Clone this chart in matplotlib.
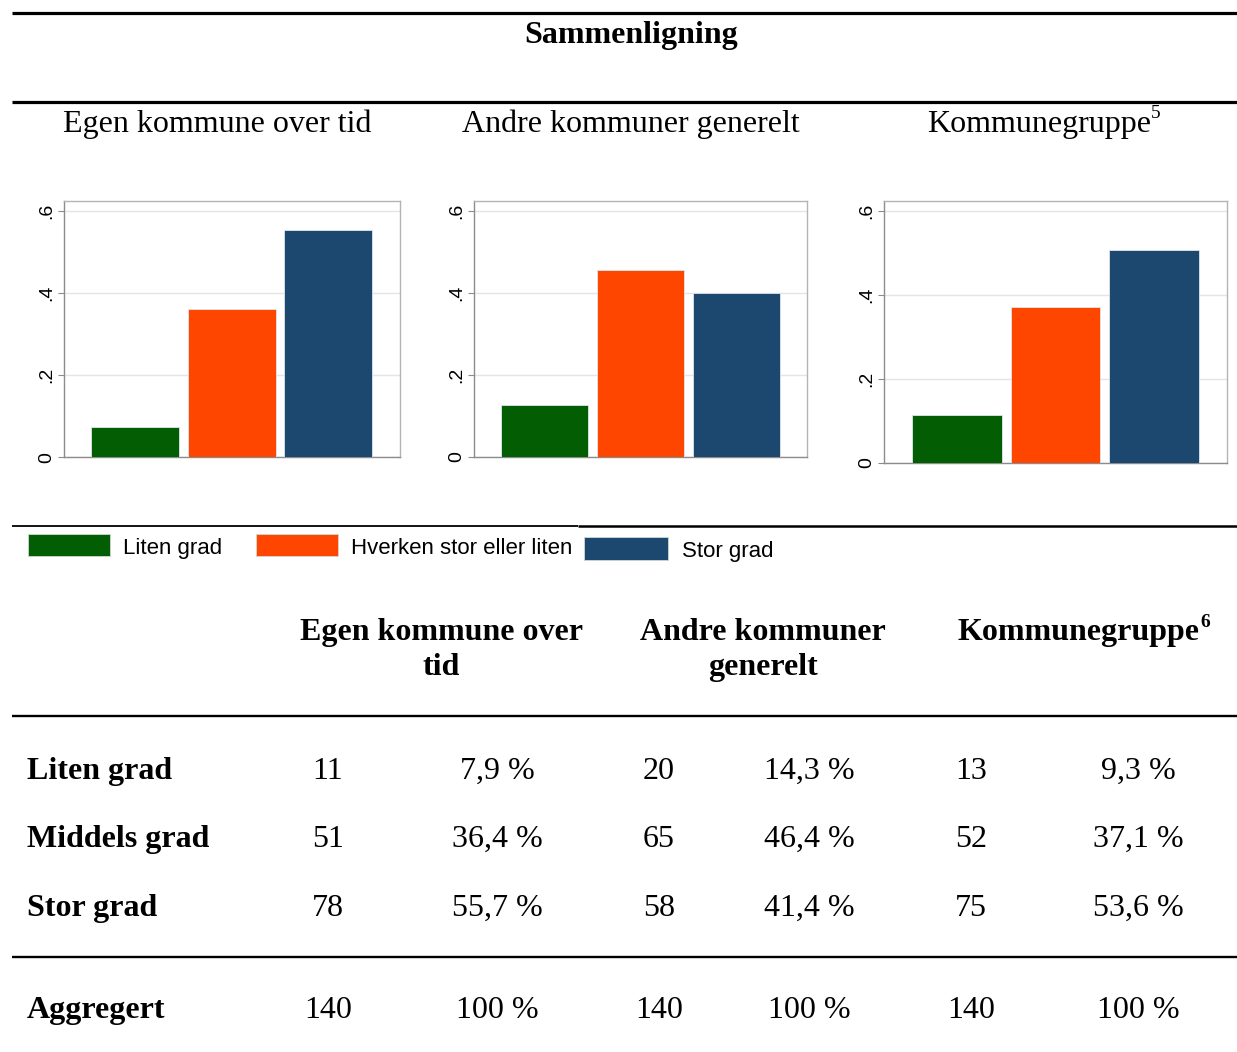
import matplotlib
matplotlib.use("Agg")
import matplotlib.pyplot as plt
from matplotlib.lines import Line2D
from matplotlib.patches import Rectangle

W, H = 1237, 1052  # output size in pixels (dpi 100)

# --- data -------------------------------------------------------------
doc_title = "Sammenligning"
panel_titles = ["Egen kommune over tid", "Andre kommuner generelt", "Kommunegruppe"]
categories = ["Liten grad", "Hverken stor eller liten", "Stor grad"]
colors = ["#035e03", "#ff4600", "#1c4870"]

# bar heights as drawn in the three panels
shares_egen = [0.074, 0.362, 0.553]
shares_andre = [0.127, 0.456, 0.400]
shares_gruppe = [0.114, 0.371, 0.507]
yticks = [0, 0.2, 0.4, 0.6]
ytick_labels = ["0", ".2", ".4", ".6"]

# table below the charts
table_headers = ["Egen kommune over\ntid", "Andre kommuner\ngenerelt", "Kommunegruppe"]
row_labels = ["Liten grad", "Middels grad", "Stor grad"]
counts_egen = [11, 51, 78]
pct_egen = ["7,9 %", "36,4 %", "55,7 %"]
counts_andre = [20, 65, 58]
pct_andre = ["14,3 %", "46,4 %", "41,4 %"]
counts_gruppe = [13, 52, 75]
pct_gruppe = ["9,3 %", "37,1 %", "53,6 %"]
total_label = "Aggregert"
total_counts = [140, 140, 140]
total_pct = ["100 %", "100 %", "100 %"]

SERIF = "Liberation Serif"
SANS = "Liberation Sans"

fig = plt.figure(figsize=(W / 100, H / 100), dpi=100)
fig.patch.set_facecolor("white")


def fx(x):
    return x / W


def fy(y):
    return 1 - y / H


def hline(x0, x1, y, lw):
    fig.add_artist(Line2D([fx(x0), fx(x1)], [fy(y), fy(y)], color="black",
                          lw=lw, transform=fig.transFigure, solid_capstyle="butt"))


def put(x, y, s, ha="left", size=23, weight="normal", family=SERIF):
    return fig.text(fx(x), fy(y), s, ha=ha, va="baseline", fontsize=size,
                    fontweight=weight, family=family)


renderer = fig.canvas.get_renderer()


def superscript(txt, s, y, gap=0):
    bb = txt.get_window_extent(renderer=renderer)
    fig.text((bb.x1 + gap) / W, fy(y), s, ha="left", va="baseline", fontsize=14,
             fontweight=txt.get_fontweight(), family=SERIF)


# --- header -------------------------------------------------------------
hline(12, 1237, 12.5, 2.3)
put(631, 43, doc_title, ha="center", weight="bold")
hline(12, 1237, 102, 2.3)

put(217, 132, panel_titles[0], ha="center")
put(631, 132, panel_titles[1], ha="center")
t = put(927, 132, panel_titles[2])
superscript(t, "5", 118, gap=0)

# --- bar panels -----------------------------------------------------------
# (left, top, right, bottom) in pixels
boxes = [(63.5, 201, 400, 457.5), (474, 201, 807, 456.5), (884, 201, 1227, 463)]
for box, shares in zip(boxes, [shares_egen, shares_andre, shares_gruppe]):
    l, tp, r, b = box
    ax = fig.add_axes([fx(l), fy(b), (r - l) / W, (b - tp) / H])
    ax.bar(range(len(shares)), shares, width=0.91, color=colors,
           edgecolor="#dfe6ee", linewidth=0.6, zorder=3)
    ax.set_xlim(-0.74, 2.74)
    ax.set_ylim(0, 0.6245)
    ax.set_xticks([])
    ax.set_yticks(yticks)
    ax.set_yticklabels(ytick_labels, rotation=90, va="center", fontsize=14, family=SANS)
    ax.tick_params(axis="y", length=4, width=0.8, color="#8c8c8c", pad=2)
    ax.grid(axis="y", color="#e4e4e4", lw=1, zorder=0)
    for side in ["left", "right", "top", "bottom"]:
        ax.spines[side].set_color("#b4b4b4")
        ax.spines[side].set_linewidth(1)
    ax.spines["bottom"].set_color("#8c8c8c")
    ax.spines["left"].set_color("#8c8c8c")

# --- legend ---------------------------------------------------------------
hline(12, 578, 526, 1.3)
hline(578, 1237, 526, 1.8)
legend_boxes = [(28, 534, 110, 556), (256, 534, 338, 556), (584, 537, 668, 560)]
legend_text = [(123, 554), (351, 554), (682, 557)]
for (x0, y0, x1, y1), (tx, ty), c, lab in zip(legend_boxes, legend_text, colors, categories):
    fig.add_artist(Rectangle((fx(x0), fy(y1)), (x1 - x0) / W, (y1 - y0) / H,
                             transform=fig.transFigure, facecolor=c,
                             edgecolor="#d0d8d0", lw=0.6))
    put(tx, ty, lab, size=16, family=SANS)

# --- table ----------------------------------------------------------------
put(441, 640, "Egen kommune over", ha="center", weight="bold")
put(441, 675, "tid", ha="center", weight="bold")
put(763, 640, "Andre kommuner", ha="center", weight="bold")
put(763, 675, "generelt", ha="center", weight="bold")
t = put(958, 640, table_headers[2], weight="bold")
superscript(t, "6", 627, gap=0)

hline(12, 1237, 716, 1.7)

count_x = [328, 659, 971]
pct_x = [497, 809, 1138]
row_y = [779, 847, 916]
counts = [counts_egen, counts_andre, counts_gruppe]
pcts = [pct_egen, pct_andre, pct_gruppe]
for i, (lab, y) in enumerate(zip(row_labels, row_y)):
    put(27, y, lab, weight="bold")
    for j in range(3):
        put(count_x[j], y, str(counts[j][i]), ha="center")
        put(pct_x[j], y, pcts[j][i], ha="center")

hline(12, 1237, 957, 1.7)

put(27, 1018, total_label, weight="bold")
for j in range(3):
    put(count_x[j], 1018, str(total_counts[j]), ha="center")
    put(pct_x[j], 1018, total_pct[j], ha="center")

fig.savefig("out.png", dpi=100, facecolor="white")
